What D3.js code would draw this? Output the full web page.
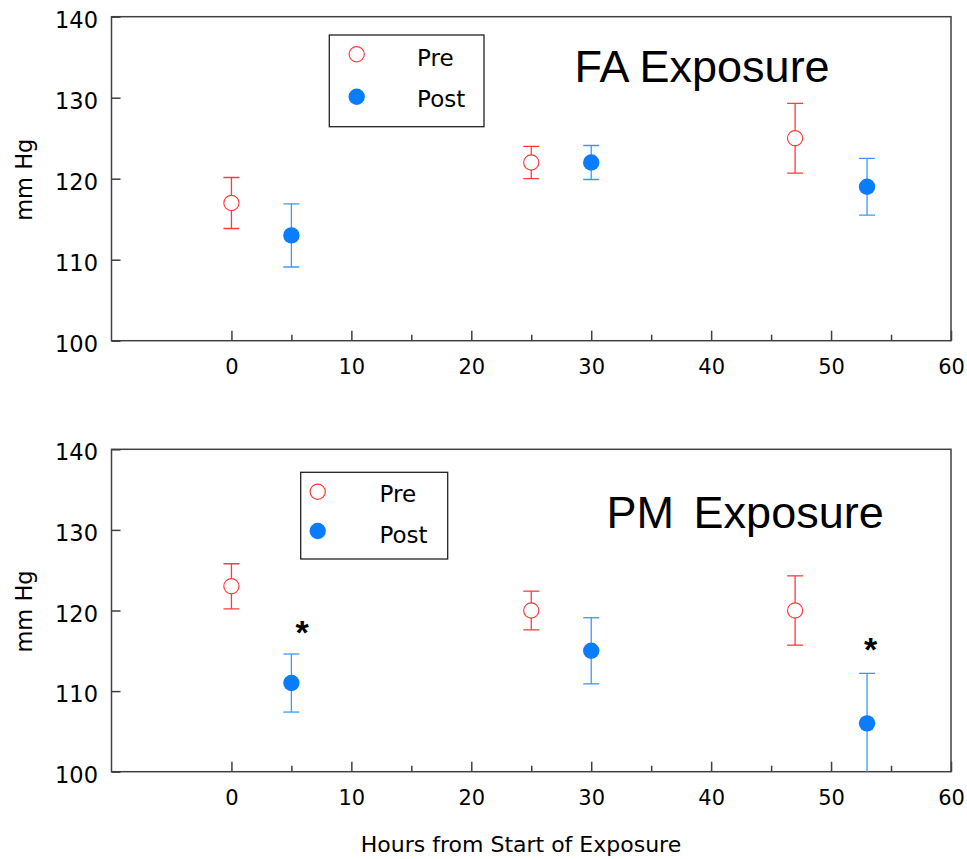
<!DOCTYPE html>
<html>
<head>
<meta charset="utf-8">
<script src="https://cdn.jsdelivr.net/npm/d3@7"></script>
<style>
  body { margin: 0; background: #fff; }
  svg { font-family: "DejaVu Sans", Verdana, sans-serif; }
  .title { font-family: "Liberation Sans", Arial, sans-serif; }
</style>
</head>
<body>
<svg width="967" height="859"></svg>
<script>
// hours at which readings were taken
const preHours = [0, 25, 47];
const postHours = [5, 30, 53];

// FA exposure (mean, error)
const faPreMean = [117, 122, 125];
const faPreErr = [3.15, 2.0, 4.3];
const faPostMean = [113, 122, 119];
const faPostErr = [3.9, 2.1, 3.5];

// PM exposure (mean, error)
const pmPreMean = [123, 120, 120];
const pmPreErr = [2.8, 2.4, 4.3];
const pmPostMean = [111, 115, 106];
const pmPostErr = [3.6, 4.1, 6.2];

// significance marks (PM post)
const pmSigHours = [5.9, 53.3];
const pmSigLevels = [118.2, 116.1];

const xMajor = [0, 10, 20, 30, 40, 50, 60];
const xMinor = [5, 15, 25, 35, 45, 55];
const yTicks = [100, 110, 120, 130, 140];

const RED = "#ff3c3c";
const BLUE = "#0a7dff";
const BLUE_ERR = "#3b98ff";
const AXIS = "#404040";

const svg = d3.select("svg");
const left = 111.5, right = 951;

const x = d3.scaleLinear().domain([-10, 60]).range([left, right]);

const zip = (hrs, m, e) => hrs.map((h, i) => ({ hour: h, mean: m[i], err: e[i] }));

const panels = [
  {
    id: "fa", top: 16.7, bottom: 340.7,
    pre: zip(preHours, faPreMean, faPreErr),
    post: zip(postHours, faPostMean, faPostErr),
    title: "FA Exposure", titleX: 574.5, titleY: 81.7, wordGap: 0,
    legend: { x: 329.3, y: 35, w: 154.7, h: 91.7, mx: 27.4, tx: 87.8, rows: [19.3, 61.7], base: [30.7, 72] },
    sig: []
  },
  {
    id: "pm", top: 449.3, bottom: 771.7,
    pre: zip(preHours, pmPreMean, pmPreErr),
    post: zip(postHours, pmPostMean, pmPostErr),
    title: "PM Exposure", titleX: 606.6, titleY: 528.3, wordGap: 7,
    legend: { x: 300.7, y: 472.3, w: 147, h: 86.7, mx: 17, tx: 78.8, rows: [19.4, 58.7], base: [30, 70.4] },
    sig: pmSigHours.map((h, i) => ({ hour: h, level: pmSigLevels[i] }))
  }
];

panels.forEach((p) => {
  const y = d3.scaleLinear().domain([100, 140]).range([p.bottom, p.top]);
  const g = svg.append("g").attr("id", p.id);

  g.append("clipPath").attr("id", "clip-" + p.id)
    .append("rect")
    .attr("x", left).attr("y", p.top)
    .attr("width", right - left).attr("height", p.bottom - p.top);

  // x axis: major and minor ticks pointing inward
  const xAx = g.append("g")
    .attr("transform", `translate(0,${p.bottom})`)
    .call(d3.axisBottom(x).tickValues(xMajor).tickSize(-10).tickPadding(18).tickFormat(d3.format("d")));
  xAx.select(".domain").remove();
  xAx.attr("font-family", null);
  xAx.selectAll("text").attr("font-size", 21).attr("fill", "#000");
  xAx.selectAll("line").attr("stroke", AXIS).attr("stroke-width", 1.5);

  const xMin = g.append("g")
    .attr("transform", `translate(0,${p.bottom})`)
    .call(d3.axisBottom(x).tickValues(xMinor).tickSize(-6).tickFormat(""));
  xMin.select(".domain").remove();
  xMin.selectAll("line").attr("stroke", AXIS).attr("stroke-width", 1.5);

  // y axis
  const yAx = g.append("g")
    .attr("transform", `translate(${left},0)`)
    .call(d3.axisLeft(y).tickValues(yTicks).tickSize(-9).tickPadding(13.5));
  yAx.select(".domain").remove();
  yAx.attr("font-family", null);
  yAx.selectAll("text").attr("font-size", 22.5).attr("fill", "#000").attr("dy", "0.47em");
  yAx.selectAll("line").attr("stroke", AXIS).attr("stroke-width", 1.5);

  // frame
  g.append("rect")
    .attr("x", left).attr("y", p.top)
    .attr("width", right - left).attr("height", p.bottom - p.top)
    .attr("fill", "none").attr("stroke", AXIS).attr("stroke-width", 1.5);

  g.append("text")
    .attr("transform", `translate(31.5,${(p.top + p.bottom) / 2 + 1}) rotate(-90)`)
    .attr("text-anchor", "middle")
    .attr("font-size", 22.5)
    .text("mm Hg");

  const plot = g.append("g").attr("clip-path", `url(#clip-${p.id})`);

  const drawSeries = (data, color, errColor, filled) => {
    const s = plot.append("g");
    s.selectAll("line.v").data(data).join("line")
      .attr("x1", (d) => x(d.hour)).attr("x2", (d) => x(d.hour))
      .attr("y1", (d) => y(d.mean - d.err)).attr("y2", (d) => y(d.mean + d.err))
      .attr("stroke", errColor).attr("stroke-width", 1.3);
    ["+", "-"].forEach((sign) => {
      s.selectAll("line.cap" + (sign === "+" ? "u" : "d")).data(data).join("line")
        .attr("x1", (d) => x(d.hour) - 8).attr("x2", (d) => x(d.hour) + 8)
        .attr("y1", (d) => y(sign === "+" ? d.mean + d.err : d.mean - d.err))
        .attr("y2", (d) => y(sign === "+" ? d.mean + d.err : d.mean - d.err))
        .attr("stroke", errColor).attr("stroke-width", 1.3);
    });
    s.selectAll("circle").data(data).join("circle")
      .attr("cx", (d) => x(d.hour)).attr("cy", (d) => y(d.mean))
      .attr("r", filled ? 8.2 : 7.6)
      .attr("fill", filled ? color : "#fff")
      .attr("stroke", filled ? "none" : color)
      .attr("stroke-width", 1.2);
  };
  drawSeries(p.pre, RED, RED, false);
  drawSeries(p.post, BLUE, BLUE_ERR, true);

  g.selectAll("text.sig").data(p.sig).join("text")
    .attr("class", "sig title")
    .attr("x", (d) => x(d.hour))
    .attr("y", (d) => y(d.level) + 19)
    .attr("text-anchor", "middle")
    .attr("font-size", 34)
    .attr("font-weight", "bold")
    .text("*");

  g.append("text")
    .attr("class", "title")
    .attr("x", p.titleX).attr("y", p.titleY)
    .attr("font-size", 45)
    .style("word-spacing", p.wordGap + "px")
    .text(p.title);

  // legend
  const L = p.legend;
  const lg = g.append("g").attr("transform", `translate(${L.x},${L.y})`);
  lg.append("rect").attr("width", L.w).attr("height", L.h)
    .attr("fill", "#fff").attr("stroke", "#222").attr("stroke-width", 1.3);
  const items = [
    { label: "Pre", color: RED, filled: false },
    { label: "Post", color: BLUE, filled: true }
  ];
  lg.selectAll("circle").data(items).join("circle")
    .attr("cx", L.mx).attr("cy", (d, i) => L.rows[i])
    .attr("r", (d) => (d.filled ? 8.2 : 7.6))
    .attr("fill", (d) => (d.filled ? d.color : "#fff"))
    .attr("stroke", (d) => (d.filled ? "none" : d.color))
    .attr("stroke-width", 1.2);
  lg.selectAll("text").data(items).join("text")
    .attr("x", L.tx).attr("y", (d, i) => L.base[i])
    .attr("font-size", 23)
    .text((d) => d.label);
});

svg.append("text")
  .attr("x", 521).attr("y", 851.7)
  .attr("text-anchor", "middle")
  .attr("font-size", 22)
  .text("Hours from Start of Exposure");
</script>
</body>
</html>
